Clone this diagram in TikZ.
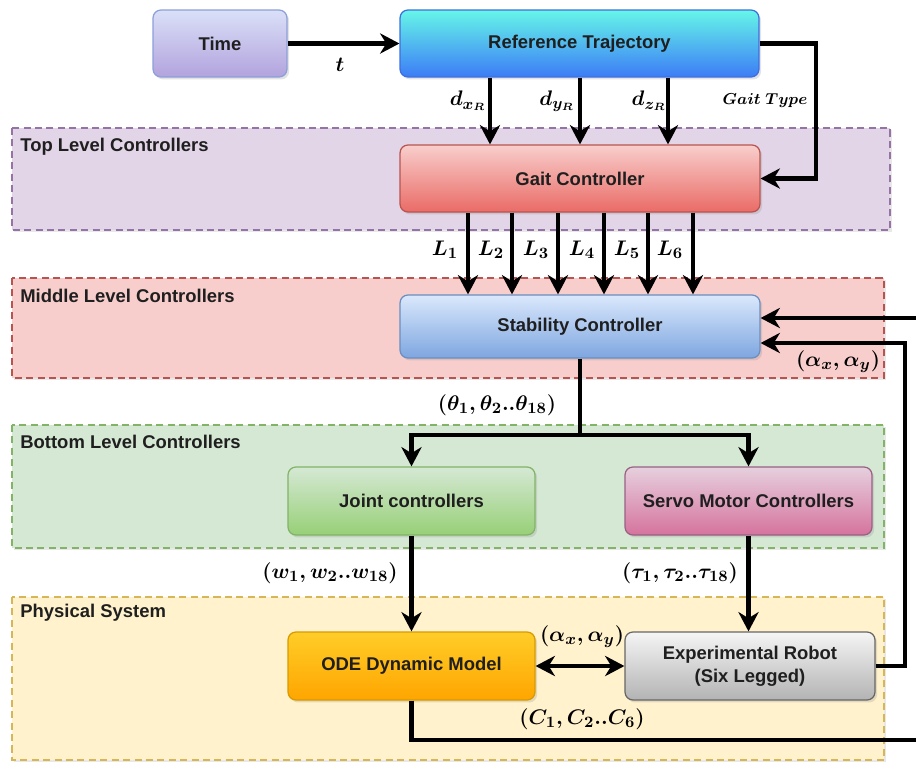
\documentclass[tikz,border=0pt]{standalone}
\usepackage{fontspec}
\setmainfont{Liberation Sans}
\usepackage{amsmath,bm}
\usetikzlibrary{arrows.meta,shadows,calc}
\definecolor{timeT}{HTML}{DAE0F8}\definecolor{timeB}{HTML}{B2A3DD}\definecolor{timeD}{HTML}{8C9FD8}
\definecolor{rtT}{HTML}{66F6E8}\definecolor{rtB}{HTML}{3C7CF6}\definecolor{rtD}{HTML}{3C6EE0}
\definecolor{gaT}{HTML}{F8CECC}\definecolor{gaB}{HTML}{EA6B66}\definecolor{gaD}{HTML}{B85450}
\definecolor{stT}{HTML}{DAE8FC}\definecolor{stB}{HTML}{7EA6E0}\definecolor{stD}{HTML}{6C8EBF}
\definecolor{joT}{HTML}{D5E8D4}\definecolor{joB}{HTML}{97D077}\definecolor{joD}{HTML}{82B366}
\definecolor{seT}{HTML}{E6D0DE}\definecolor{seB}{HTML}{D5739D}\definecolor{seD}{HTML}{996185}
\definecolor{odT}{HTML}{FFCD28}\definecolor{odB}{HTML}{FFA500}\definecolor{odD}{HTML}{D79B00}
\definecolor{roT}{HTML}{F5F5F5}\definecolor{roB}{HTML}{B3B3B3}\definecolor{roD}{HTML}{666666}
\definecolor{bTopF}{HTML}{E1D5E7}\definecolor{bTopD}{HTML}{9673A6}
\definecolor{bMidF}{HTML}{F8CECC}\definecolor{bMidD}{HTML}{B85450}
\definecolor{bBotF}{HTML}{D5E8D4}\definecolor{bBotD}{HTML}{82B366}
\definecolor{bPhyF}{HTML}{FFF2CC}\definecolor{bPhyD}{HTML}{D6B656}
\begin{document}
\begin{tikzpicture}[x=0.02cm,y=-0.02cm,
  box/.style={draw, line width=0.7pt, rounded corners=4.5pt, align=center, inner sep=2pt,
    font=\bfseries\fontsize{10.5}{13}\selectfont, text=black!88,
    drop shadow={shadow xshift=1.2pt, shadow yshift=-1.4pt, opacity=0.22}},
  band/.style={line width=0.8pt, dash pattern=on 4pt off 2.5pt,
    drop shadow={shadow xshift=1.2pt, shadow yshift=-1.4pt, opacity=0.18}},
  blab/.style={anchor=west, inner sep=0pt, font=\bfseries\fontsize{10.5}{13}\selectfont, text=black!88},
  arr/.style={line width=2.5pt, -{Stealth[length=11pt,width=11.5pt,inset=3.5pt]}},
  darr/.style={line width=2.5pt, {Stealth[length=11pt,width=11.5pt,inset=3.5pt]}-{Stealth[length=11pt,width=11.5pt,inset=3.5pt]}},
  ln/.style={line width=2.5pt},
  mlab/.style={inner sep=1pt, font=\boldmath\fontsize{13}{15}\selectfont}
]
\useasboundingbox (0,0) rectangle (916,765);

% bands
\draw[band, fill=bTopF, draw=bTopD] (12,128) rectangle (890,230);
\draw[band, fill=bMidF, draw=bMidD] (12,278) rectangle (884,378);
\draw[band, fill=bBotF, draw=bBotD] (12,425) rectangle (884,548);
\draw[band, fill=bPhyF, draw=bPhyD] (12,597) rectangle (884,760);
\node[blab] (ltop) at (20,147) {Top Level Controllers};
\node[blab] (lmid) at (20,296) {Middle Level Controllers};
\node[blab] (lbot) at (20,442) {Bottom Level Controllers};
\node[blab] (lphy) at (20,613) {Physical System};

% boxes
\node[box, top color=timeT, bottom color=timeB, draw=timeD, minimum width=2.68cm, minimum height=1.34cm] (time) at (220,43.5) {Time};
\node[box, top color=rtT, bottom color=rtB, draw=rtD, minimum width=7.18cm, minimum height=1.34cm] (rt) at (579.5,43.5) {Reference Trajectory};
\node[box, top color=gaT, bottom color=gaB, draw=gaD, minimum width=7.2cm, minimum height=1.34cm] (gait) at (580,178.5) {Gait Controller};
\node[box, top color=stT, bottom color=stB, draw=stD, minimum width=7.2cm, minimum height=1.26cm] (stab) at (580,326.5) {Stability Controller};
\node[box, top color=joT, bottom color=joB, draw=joD, minimum width=4.94cm, minimum height=1.36cm] (joint) at (411.5,501) {Joint controllers};
\node[box, top color=seT, bottom color=seB, draw=seD, minimum width=4.94cm, minimum height=1.36cm] (servo) at (748.5,501) {Servo Motor Controllers};
\node[box, top color=odT, bottom color=odB, draw=odD, minimum width=4.94cm, minimum height=1.36cm] (ode) at (411.5,666) {ODE Dynamic Model};
\node[box, top color=roT, bottom color=roB, draw=roD, minimum width=5cm, minimum height=1.36cm] (robot) at (750,666) {Experimental Robot\\(Six Legged)};

% time -> reference
\draw[arr] (time.east) -- (rt.west);
\node[mlab] (tl) at (340,65) {$\bm{t}$};

% reference -> gait
\coordinate (dx) at (490,0);
\coordinate (dy) at (580,0);
\coordinate (dz) at (668,0);
\draw[arr] (rt.south -| dx) -- (gait.north -| dx);
\draw[arr] (rt.south -| dy) -- (gait.north -| dy);
\draw[arr] (rt.south -| dz) -- (gait.north -| dz);
\node[mlab] (ldx) at (468,101) {$d_{x_R}$};
\node[mlab] (ldy) at (557,101) {$d_{y_R}$};
\node[mlab] (ldz) at (649,101) {$d_{z_R}$};
\coordinate (gt) at (816,0);
\draw[arr] (rt.east) -- (rt.east -| gt) |- (gait.east);
\node[inner sep=1pt, font=\boldmath\fontsize{9.5}{11}\selectfont] (lgt) at (765,101) {$Gait\ Type$};

% gait -> stability
\foreach \x/\n in {468/1,512/2,558/3,604/4,648/5,693/6}{
  \coordinate (Lc\n) at (\x,0);
  \draw[arr] (gait.south -| Lc\n) -- (stab.north -| Lc\n);
}
\foreach \x/\n in {445/1,491/2,536/3,582/4,627/5,670/6}{
  \node[mlab] (Ll\n) at (\x,250) {$L_{\n}$};
}

% feedback into stability
\coordinate (edgeA) at (916,318);
\draw[arr] (edgeA) -- (edgeA -| stab.east);
\coordinate (fbx) at (905,0);
\coordinate (sIn) at ($(stab.east)+(0,16.5)$);
\draw[arr] (robot.east) -- (robot.east -| fbx) |- (sIn);
\node[mlab] (laxy1) at (838,362) {$(\alpha_x,\alpha_y)$};

% stability -> bottom
\coordinate (split) at (580,435);
\draw[ln] (stab.south) -- (split);
\draw[arr] (split) -| (joint.north);
\draw[arr] (split) -| (servo.north);
\node[mlab] (lth) at (497,405) {$(\theta_1,\theta_2..\theta_{18})$};

% bottom -> physical
\draw[arr] (joint.south) -- (ode.north);
\draw[arr] (servo.south) -- (servo.south |- robot.north);
\node[mlab] (lw) at (330,573) {$(w_1,w_2..w_{18})$};
\node[mlab] (ltau) at (680,573) {$(\tau_1,\tau_2..\tau_{18})$};

% ode <-> robot
\draw[darr] (ode.east) -- (robot.west);
\node[mlab] (laxy2) at (582,637) {$(\alpha_x,\alpha_y)$};

% ode output
\coordinate (edgeB) at (916,740);
\draw[ln] (ode.south) |- (edgeB);
\node[mlab] (lc) at (582,719) {$(C_1,C_2..C_6)$};
\end{tikzpicture}
\end{document}
